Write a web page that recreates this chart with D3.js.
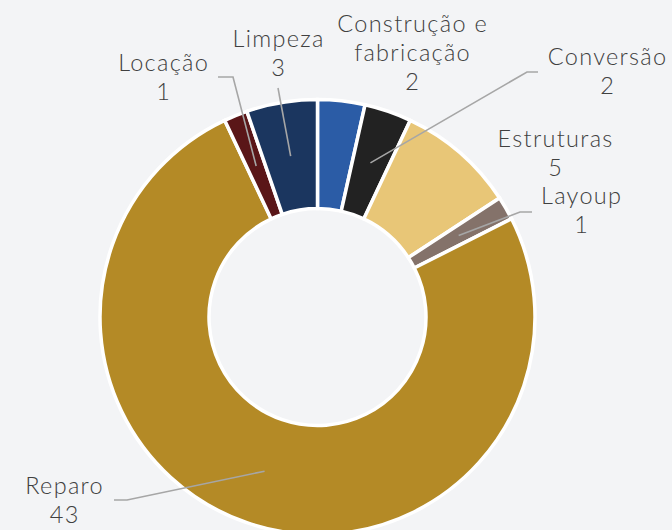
<!DOCTYPE html>
<html><head><meta charset="utf-8">
<script src="https://cdn.jsdelivr.net/npm/d3@7"></script>
<style>
html,body{margin:0;padding:0;background:#f3f4f6;}
svg{display:block;}
text{font-family:"Lato",sans-serif;font-weight:300;font-size:23.5px;letter-spacing:1.3px;fill:#404040;}
</style></head>
<body><svg id="c" width="672" height="530"></svg>
<script>
// ---- data ----
const categories = ["Construção e fabricação","Conversão","Estruturas","Layoup","Reparo","Locação","Limpeza"];
const values = [2,2,5,1,43,1,3];
const colors = ["#2b5ca6","#222222","#e8c677","#84726a","#b48a26","#5a1618","#1b365f"];
const labelLines = [["Construção e","fabricação"],["Conversão"],["Estruturas"],["Layoup"],["Reparo"],["Locação"],["Limpeza"]];

// ---- layout (label anchor: center x, first baseline y; leader elbow) ----
const labelLayout = [
  {x:412, y:32, leader:null},
  {x:607, y:65, leader:[[538,72],[527,72]]},
  {x:555, y:147, leader:null},
  {x:581, y:204, leader:[[532,212],[520,212]]},
  {x:64,  y:494, leader:[[114,500],[127,500]]},
  {x:163, y:71,  leader:[[218,77],[233,77]]},
  {x:278, y:47,  leader:[[278,88]]}
];

const W=672,H=530, cx=317.5, cy=317, rOuter=217.5, rInner=108.5;
const svg=d3.select("#c");
const g=svg.append("g").attr("transform",`translate(${cx},${cy})`);
const pie=d3.pie().sort(null).value(d=>d.v);
const arcs=pie(values.map((v,i)=>({v,i})));
const arc=d3.arc().innerRadius(rInner).outerRadius(rOuter);
const midArc=d3.arc().innerRadius((rInner+rOuter)/2).outerRadius((rInner+rOuter)/2);

g.selectAll("path.slice").data(arcs).join("path")
  .attr("class","slice")
  .attr("d",arc)
  .attr("fill",d=>colors[d.data.i])
  .attr("stroke","#ffffff").attr("stroke-width",3.5).attr("stroke-linejoin","miter");

// leaders
const line=d3.line();
arcs.forEach(d=>{
  const L=labelLayout[d.data.i];
  if(!L.leader) return;
  const c=midArc.centroid(d);
  const pts=L.leader.concat([[c[0]+cx,c[1]+cy]]);
  svg.append("path").attr("d",line(pts)).attr("fill","none")
    .attr("stroke","#a6a6a6").attr("stroke-width",1.6);
});

// labels
const lh=29;
arcs.forEach(d=>{
  const i=d.data.i, L=labelLayout[i];
  const lines=labelLines[i].concat([String(values[i])]);
  lines.forEach((s,k)=>{
    svg.append("text").attr("text-anchor","middle")
      .attr("x",L.x+0.65).attr("y",L.y+k*lh).text(s);
  });
});
</script></body></html>
